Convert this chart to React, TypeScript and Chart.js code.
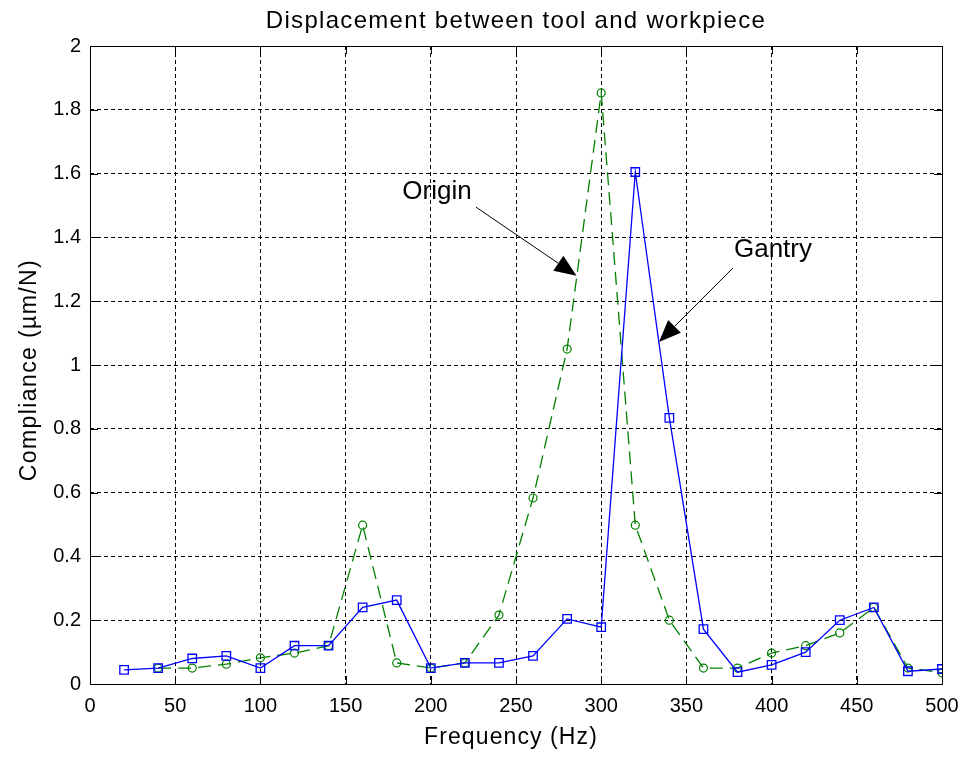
import React, { useEffect, useRef } from 'react';
import { Chart, registerables } from 'chart.js';

Chart.register(...registerables);

const frequencies = [20, 40, 60, 80, 100, 120, 140, 160, 180, 200, 220, 240, 260, 280, 300, 320, 340, 360, 380, 400, 420, 440, 460, 480, 500];
const gantry = [0.044, 0.05, 0.08, 0.088, 0.05, 0.12, 0.12, 0.24, 0.263, 0.05, 0.066, 0.066, 0.088, 0.204, 0.178, 1.605, 0.834, 0.172, 0.037, 0.06, 0.1, 0.2, 0.24, 0.04, 0.047];
const origin = [null, 0.05, 0.05, 0.062, 0.082, 0.097, 0.12, 0.498, 0.066, 0.05, 0.066, 0.216, 0.583, 1.05, 1.853, 0.498, 0.2, 0.05, 0.05, 0.097, 0.12, 0.16, 0.24, 0.05, 0.035];
const xTicks = [0, 50, 100, 150, 200, 250, 300, 350, 400, 450, 500];
const yTicks = [0, 0.2, 0.4, 0.6, 0.8, 1, 1.2, 1.4, 1.6, 1.8, 2];
const chartTitle = 'Displacement between tool and workpiece';
const xLabel = 'Frequency (Hz)';
const yLabel = 'Compliance (\u00b5m/N)';
const annotationLabels = ['Origin', 'Gantry'];
const annotationTextAt = [[203.6, 1.542], [400.8, 1.36]];
const annotationTail = [[226.5, 1.495], [377.3, 1.304]];
const annotationHead = [[285.5, 1.28], [333.9, 1.072]];

const FONT = '"Liberation Sans", Arial, sans-serif';

const decorPlugin = {
  id: 'decor',
  afterDatasetsDraw(chart: any) {
    const { ctx, chartArea, scales } = chart;
    const { left, right, top, bottom } = chartArea;
    const xs = scales.x;
    const ys = scales.y;
    ctx.save();
    ctx.strokeStyle = '#000';
    ctx.lineWidth = 1;
    ctx.setLineDash([]);
    ctx.strokeRect(Math.round(left) + 0.5, Math.round(top) + 0.5, Math.round(right - left), Math.round(bottom - top));
    const tl = 8;
    ctx.beginPath();
    xTicks.forEach((v) => {
      const px = Math.round(xs.getPixelForValue(v)) + 0.5;
      ctx.moveTo(px, bottom);
      ctx.lineTo(px, bottom - tl);
      ctx.moveTo(px, top);
      ctx.lineTo(px, top + tl);
    });
    yTicks.forEach((v) => {
      const py = Math.round(ys.getPixelForValue(v)) + 0.5;
      ctx.moveTo(left, py);
      ctx.lineTo(left + tl, py);
      ctx.moveTo(right, py);
      ctx.lineTo(right - tl, py);
    });
    ctx.stroke();
    annotationLabels.forEach((label, i) => {
      const tx = xs.getPixelForValue(annotationTextAt[i][0]);
      const ty = ys.getPixelForValue(annotationTextAt[i][1]);
      ctx.fillStyle = '#000';
      ctx.font = `26px ${FONT}`;
      ctx.textAlign = 'center';
      ctx.textBaseline = 'middle';
      ctx.fillText(label, tx, ty);
      const x0 = xs.getPixelForValue(annotationTail[i][0]);
      const y0 = ys.getPixelForValue(annotationTail[i][1]);
      const x1 = xs.getPixelForValue(annotationHead[i][0]);
      const y1 = ys.getPixelForValue(annotationHead[i][1]);
      const ang = Math.atan2(y1 - y0, x1 - x0);
      const hl = 22;
      const hw = 9;
      const bx = x1 - hl * Math.cos(ang);
      const by = y1 - hl * Math.sin(ang);
      ctx.strokeStyle = '#000';
      ctx.lineWidth = 1;
      ctx.beginPath();
      ctx.moveTo(x0, y0);
      ctx.lineTo(bx, by);
      ctx.stroke();
      ctx.beginPath();
      ctx.moveTo(x1, y1);
      ctx.lineTo(bx + hw * Math.sin(ang), by - hw * Math.cos(ang));
      ctx.lineTo(bx - hw * Math.sin(ang), by + hw * Math.cos(ang));
      ctx.closePath();
      ctx.fill();
    });
    ctx.fillStyle = '#000';
    ctx.textAlign = 'center';
    ctx.textBaseline = 'middle';
    ctx.font = `24px ${FONT}`;
    (ctx as any).letterSpacing = '1.3px';
    ctx.fillText(chartTitle, (left + right) / 2, 21);
    ctx.font = `23px ${FONT}`;
    (ctx as any).letterSpacing = '1.1px';
    ctx.fillText(xLabel, 511, 738);
    (ctx as any).letterSpacing = '1.4px';
    ctx.translate(30, 370);
    ctx.rotate(-Math.PI / 2);
    ctx.fillText(yLabel, 0, 0);
    (ctx as any).letterSpacing = '0px';
    ctx.restore();
  },
};

export default function App() {
  const canvasRef = useRef<HTMLCanvasElement | null>(null);
  useEffect(() => {
    document.body.style.margin = '0';
    const canvas = canvasRef.current;
    if (!canvas) return;
    const chart = new Chart(canvas, {
      type: 'line',
      data: {
        datasets: [
          {
            label: 'Gantry',
            data: frequencies.map((f, i) => ({ x: f, y: gantry[i] })),
            borderColor: 'rgb(0,0,255)',
            backgroundColor: 'rgba(0,0,0,0)',
            borderWidth: 1.3,
            pointStyle: 'rect',
            pointRadius: 6,
            pointBorderWidth: 1.3,
            pointBorderColor: 'rgb(0,0,255)',
            pointBackgroundColor: 'rgba(0,0,0,0)',
            tension: 0,
          },
          {
            label: 'Origin',
            data: frequencies.map((f, i) => ({ x: f, y: origin[i] })),
            borderColor: 'rgb(0,128,0)',
            backgroundColor: 'rgba(0,0,0,0)',
            borderWidth: 1.3,
            borderDash: [13, 7],
            pointStyle: 'circle',
            pointRadius: 4,
            pointBorderWidth: 1.2,
            pointBorderColor: 'rgb(0,128,0)',
            pointBackgroundColor: 'rgba(0,0,0,0)',
            tension: 0,
          },
        ],
      },
      options: {
        animation: false,
        responsive: true,
        maintainAspectRatio: false,
        layout: { padding: { top: 46, right: 23, left: 0, bottom: 0 } },
        plugins: { legend: { display: false }, title: { display: false }, tooltip: { enabled: false } },
        scales: {
          x: {
            type: 'linear',
            min: 0,
            max: 500,
            afterFit: (s: any) => { s.height = 74; s.paddingLeft = 0; s.paddingRight = 0; },
            afterBuildTicks: (s: any) => { s.ticks = xTicks.map((v) => ({ value: v })); },
            border: { display: false, dash: [4, 3] },
            grid: { color: '#000', lineWidth: 1, drawTicks: false },
            ticks: { padding: 10, color: '#000', font: { family: FONT, size: 20 }, maxRotation: 0, autoSkip: false },
          },
          y: {
            type: 'linear',
            min: 0,
            max: 2,
            afterFit: (s: any) => { s.width = 90; s.paddingTop = 0; s.paddingBottom = 0; },
            afterBuildTicks: (s: any) => { s.ticks = yTicks.map((v) => ({ value: v })); },
            border: { display: false, dash: [4, 3] },
            grid: { color: '#000', lineWidth: 1, drawTicks: false },
            ticks: { padding: 9, color: '#000', font: { family: FONT, size: 20 }, autoSkip: false, callback: (v: any) => String(Math.round(Number(v) * 10) / 10) },
          },
        },
      } as any,
      plugins: [decorPlugin],
    });
    return () => chart.destroy();
  }, []);
  return (
    <div style={{ width: 965, height: 758, position: 'relative', background: '#fff' }}>
      <canvas ref={canvasRef} />
    </div>
  );
}
